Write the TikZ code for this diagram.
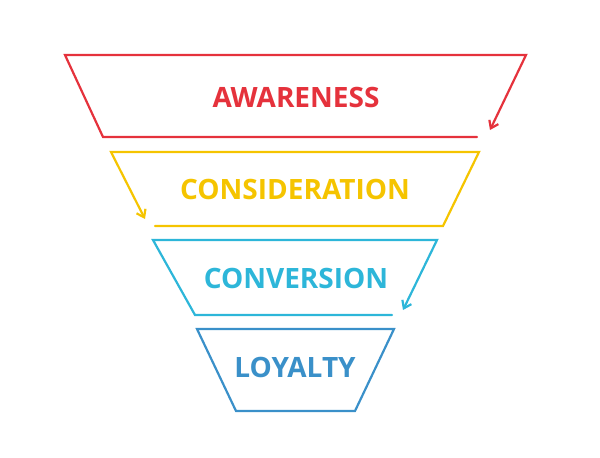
\documentclass[tikz,border=0pt]{standalone}
\usepackage{fontspec}
\setmainfont{Open Sans}
\usetikzlibrary{arrows.meta}
\definecolor{fred}{HTML}{E5323C}
\definecolor{fyellow}{HTML}{F5C400}
\definecolor{fcyan}{HTML}{2DB6D9}
\definecolor{fblue}{HTML}{3A90C9}
\tikzset{
	stage/.style={line width=2.2pt, line cap=round, line join=miter},
	tip/.style={-{Straight Barb[length=7pt,width=10pt,line width=2.2pt]}},
	label/.style={font=\fontsize{28}{28}\selectfont\bfseries}
}
\begin{document}
\begin{tikzpicture}[x=1pt,y=-1pt]
	\useasboundingbox (0,0) rectangle (600,458);
	% awareness
	\coordinate (a1) at (65,55);
	\coordinate (a2) at (526,55);
	\coordinate (a3) at (490,130);
	\coordinate (a4) at (477,137);
	\coordinate (a5) at (103,137);
	\draw [stage, fred, tip] (a4) -- (a5) -- (a1) -- (a2) -- (a3);
	\node [label, text=fred] (aw) at (296,97) {AWARENESS};
	% consideration
	\coordinate (c1) at (111,152);
	\coordinate (c2) at (479,152);
	\coordinate (c3) at (443,226);
	\coordinate (c4) at (155,226);
	\coordinate (c5) at (145,219);
	\draw [stage, fyellow, tip] (c4) -- (c3) -- (c2) -- (c1) -- (c5);
	\node [label, text=fyellow] (co) at (295,189) {CONSIDERATION};
	% conversion
	\coordinate (v1) at (153,240);
	\coordinate (v2) at (437,240);
	\coordinate (v3) at (403,310);
	\coordinate (v4) at (392,315);
	\coordinate (v5) at (195,315);
	\draw [stage, fcyan, tip] (v4) -- (v5) -- (v1) -- (v2) -- (v3);
	\node [label, text=fcyan] (cv) at (296,278) {CONVERSION};
	% loyalty
	\draw [stage, fblue] (197,329) -- (394,329) -- (355,411) -- (236,411) -- cycle;
	\node [label, text=fblue] (ly) at (295,367) {LOYALTY};
\end{tikzpicture}
\end{document}
